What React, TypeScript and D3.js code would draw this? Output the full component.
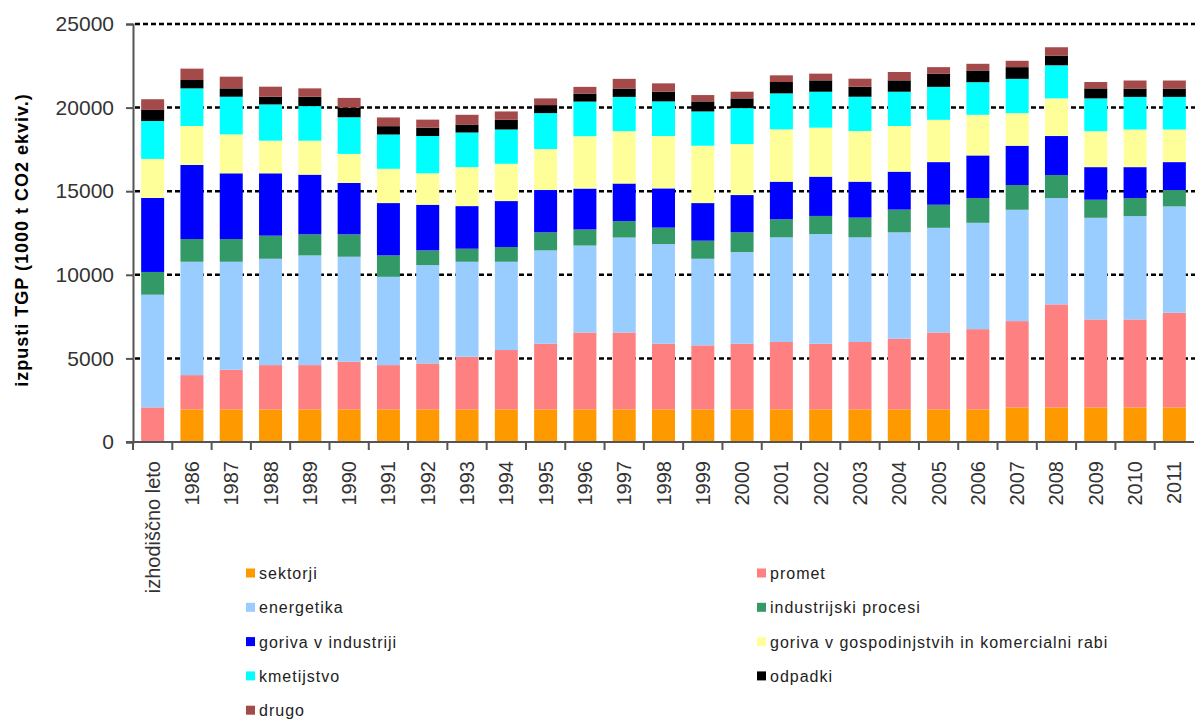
import React, { useRef, useEffect } from 'react';
import * as d3 from 'd3';

const categories = [
  'izhodiščno leto', '1986', '1987', '1988', '1989', '1990', '1991', '1992', '1993', '1994',
  '1995', '1996', '1997', '1998', '1999', '2000', '2001', '2002', '2003', '2004',
  '2005', '2006', '2007', '2008', '2009', '2010', '2011',
];

// values per series (1000 t CO2 ekviv.)
const sektorji = [0, 1950, 1950, 1950, 1950, 1950, 1950, 1950, 1950, 1950, 1950, 1950, 1950, 1950, 1950, 1950, 1950, 1950, 1950, 1950, 1950, 1950, 2070, 2070, 2070, 2070, 2070];
const promet = [2070, 2050, 2370, 2650, 2650, 2850, 2650, 2750, 3150, 3550, 3930, 4600, 4600, 3930, 3830, 3930, 4030, 3930, 4030, 4230, 4600, 4800, 5160, 6160, 5260, 5260, 5660];
const energetika = [6740, 6780, 6460, 6360, 6560, 6280, 5280, 5880, 5680, 5280, 5580, 5200, 5680, 5960, 5180, 5480, 6260, 6560, 6260, 6360, 6260, 6360, 6660, 6360, 6080, 6180, 6360];
const industrijskiProcesi = [1360, 1360, 1360, 1380, 1260, 1340, 1280, 880, 780, 880, 1080, 960, 980, 980, 1080, 1180, 1080, 1080, 1180, 1360, 1380, 1480, 1480, 1380, 1080, 1080, 980];
const gorivaIndustrija = [4430, 4430, 3930, 3730, 3570, 3070, 3130, 2730, 2550, 2750, 2530, 2450, 2250, 2350, 2250, 2230, 2250, 2350, 2150, 2270, 2550, 2550, 2350, 2330, 1950, 1850, 1670];
const gorivaGospodinjstva = [2330, 2330, 2330, 1950, 2030, 1740, 2050, 1880, 2330, 2230, 2450, 3130, 3130, 3130, 3430, 3050, 3130, 2930, 3030, 2730, 2530, 2430, 1950, 2250, 2150, 2250, 1950];
const kmetijstvo = [2270, 2250, 2250, 2170, 2070, 2190, 2050, 2230, 2070, 2050, 2150, 2070, 2050, 2070, 2050, 2150, 2150, 2150, 2050, 2050, 1970, 1950, 2050, 1980, 1960, 1950, 1950];
const odpadki = [660, 500, 500, 460, 560, 580, 500, 500, 480, 580, 480, 480, 500, 580, 600, 580, 680, 680, 600, 680, 780, 700, 700, 580, 600, 500, 500];
const drugo = [640, 680, 700, 600, 500, 580, 520, 480, 580, 500, 400, 400, 580, 500, 380, 400, 400, 400, 480, 500, 400, 400, 380, 500, 380, 480, 480];

const seriesNames = [
  'sektorji', 'promet', 'energetika', 'industrijski procesi', 'goriva v industriji',
  'goriva v gospodinjstvih in komercialni rabi', 'kmetijstvo', 'odpadki', 'drugo',
];
const seriesColors = ['#ff9900', '#ff8080', '#99ccff', '#339966', '#0000ff', '#ffff99', '#00ffff', '#000000', '#a54a4a'];
const seriesValues = [sektorji, promet, energetika, industrijskiProcesi, gorivaIndustrija, gorivaGospodinjstva, kmetijstvo, odpadki, drugo];

const yTicks = [0, 5000, 10000, 15000, 20000, 25000];

const FONT = '"Liberation Sans", Arial, sans-serif';

export default function App() {
  const ref = useRef<SVGSVGElement | null>(null);

  useEffect(() => {
    document.body.style.margin = '0';
    if (!ref.current) return;
    const svg = d3.select(ref.current);
    svg.selectAll('*').remove();

    const x = d3.scaleBand<string>()
      .domain(categories)
      .range([133, 1194])
      .paddingInner(0.415)
      .paddingOuter(0.2075);
    const y = d3.scaleLinear().domain([0, 25000]).range([442, 24]);

    const rows = categories.map((c, i) => {
      const r: Record<string, number | string> = { cat: c };
      seriesNames.forEach((s, k) => { r[s] = seriesValues[k][i]; });
      return r;
    });
    const stacked = d3.stack<Record<string, number | string>>()
      .keys(seriesNames)
      .value((d, key) => d[key] as number)(rows);

    // gridlines
    svg.append('g')
      .selectAll('line')
      .data(yTicks.filter(t => t > 0))
      .join('line')
      .attr('x1', 135)
      .attr('x2', 1195)
      .attr('y1', d => y(d))
      .attr('y2', d => y(d))
      .attr('stroke', '#000')
      .attr('stroke-width', 2.5)
      .attr('stroke-dasharray', '5 3');

    // bars
    svg.append('g')
      .selectAll('g')
      .data(stacked)
      .join('g')
      .attr('fill', (_, i) => seriesColors[i])
      .selectAll('rect')
      .data(d => d)
      .join('rect')
      .attr('x', d => x(d.data.cat as string)!)
      .attr('width', x.bandwidth())
      .attr('y', d => y(d[1]))
      .attr('height', d => Math.max(0, y(d[0]) - y(d[1])));

    // y axis
    const yAxis = svg.append('g')
      .attr('transform', 'translate(133,0)')
      .call(d3.axisLeft(y).tickValues(yTicks).tickSize(7).tickPadding(12).tickFormat(d3.format('d')));
    yAxis.selectAll('.domain').attr('stroke', '#555').attr('stroke-width', 2);
    yAxis.selectAll('.tick line').attr('stroke', '#555').attr('stroke-width', 2);
    yAxis.selectAll('.tick text')
      .attr('fill', '#333')
      .style('font-size', '21px')
      .style('font-family', FONT);

    // x axis
    const xAxis = svg.append('g');
    xAxis.append('line')
      .attr('x1', 126).attr('x2', 1194)
      .attr('y1', 442).attr('y2', 442)
      .attr('stroke', '#555').attr('stroke-width', 2);
    const gap = (x.step() - x.bandwidth()) / 2;
    xAxis.selectAll('line.tick')
      .data(categories)
      .join('line')
      .attr('class', 'tick')
      .attr('x1', d => x(d)! - gap)
      .attr('x2', d => x(d)! - gap)
      .attr('y1', 442)
      .attr('y2', 450)
      .attr('stroke', '#555')
      .attr('stroke-width', 2);
    xAxis.selectAll('text')
      .data(categories)
      .join('text')
      .attr('transform', d => `translate(${x(d)! + x.bandwidth() / 2},461) rotate(-90)`)
      .attr('text-anchor', 'end')
      .attr('dy', '0.35em')
      .attr('fill', '#333')
      .style('font-size', '20px')
      .style('font-family', FONT)
      .text(d => d);

    // y title
    svg.append('text')
      .attr('transform', 'translate(22,240) rotate(-90)')
      .attr('text-anchor', 'middle')
      .attr('dy', '0.35em')
      .attr('fill', '#000')
      .style('font-size', '18px')
      .style('letter-spacing', '1px')
      .style('font-weight', 'bold')
      .style('font-family', FONT)
      .text('izpusti TGP (1000 t CO2  ekviv.)');

    // legend
    const legend = svg.append('g');
    const item = legend.selectAll('g')
      .data(seriesNames)
      .join('g')
      .attr('transform', (_, i) => `translate(${i % 2 === 0 ? 246 : 757},${573.5 + Math.floor(i / 2) * 34.3})`);
    item.append('rect')
      .attr('x', 0).attr('y', -5)
      .attr('width', 9).attr('height', 9)
      .attr('fill', (_, i) => seriesColors[i]);
    item.append('text')
      .attr('x', 13)
      .attr('dy', '0.35em')
      .attr('fill', '#222')
      .style('font-size', '16px')
      .style('letter-spacing', '1px')
      .style('font-family', FONT)
      .text(d => d);
  }, []);

  return <svg ref={ref} width={1195} height={720} style={{ display: 'block', background: '#fff' }} />;
}
